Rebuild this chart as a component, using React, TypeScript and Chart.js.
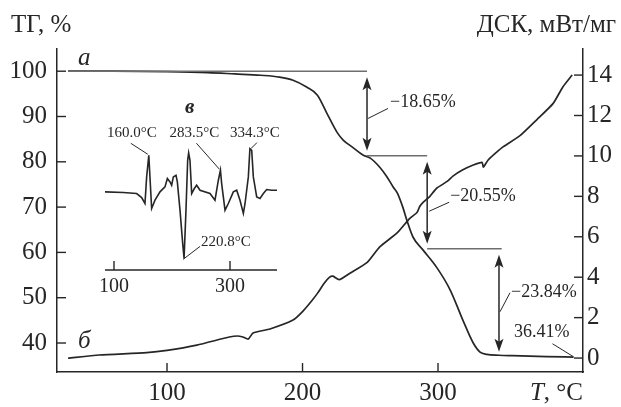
import React, { useEffect, useRef } from "react";
import { Chart, registerables } from "chart.js";

Chart.register(...registerables);

const SERIF = '"Liberation Serif", "Times New Roman", serif';
const INK = "#262626";
const GREY = "#6e6e6e";

// ТГ (mass, %) vs temperature
const TG_T = [27, 60, 100, 130, 150, 169, 183, 193, 203, 211, 218, 225.5, 230, 237, 244.6, 250, 257, 262, 267, 270, 274, 277, 281.5, 289, 299, 309, 318.4, 326, 331, 336, 345, 355, 380, 400];
const TG_V = [100, 100, 99.9, 99.7, 99.4, 99.1, 98.7, 98.0, 96.5, 94.7, 90.7, 86.5, 84.8, 83.2, 81.5, 80.8, 78.8, 76.8, 74.4, 73.1, 70.0, 67.1, 63.4, 60.5, 56.7, 51.7, 45.0, 40.0, 38.0, 37.5, 37.3, 37.2, 37.0, 36.9];

// ДСК (mW/mg) vs temperature
const DSC_T = [27, 50, 85, 100, 122, 146, 152, 156, 160, 163.5, 176, 193, 200, 207, 211, 216, 220, 222.5, 227, 235, 248, 257, 270, 279, 284.5, 286.5, 289, 294, 299, 307, 311, 318, 326, 332.5, 333.5, 337, 343.5, 348, 360.5, 373, 385, 392, 399];
const DSC_V = [0.0, 0.15, 0.27, 0.38, 0.64, 1.04, 1.09, 1.04, 0.94, 1.24, 1.44, 1.88, 2.3, 2.85, 3.2, 3.7, 4.0, 4.05, 3.88, 4.2, 4.75, 5.5, 6.2, 6.9, 7.2, 7.5, 7.7, 8.0, 8.4, 8.75, 9.0, 9.3, 9.55, 9.68, 9.45, 9.8, 10.2, 10.45, 11.0, 11.8, 12.6, 13.4, 14.0];

// Inset (в): derivative curve, arbitrary units
const INSET_T = [84.5, 116, 139, 147.7, 153.4, 156.3, 160.0, 162, 164.9, 170.7, 179.3, 187.9, 192, 196.6, 199.4, 202.3, 206.9, 209.2, 213.8, 218.4, 220.8, 224.1, 227, 228.7, 231, 233.9, 238.5, 242.5, 248.3, 265.5, 274.1, 279.9, 283.5, 285.6, 291.4, 297.1, 305.7, 311.5, 317.2, 323, 325.9, 331.6, 334.3, 337.4, 340.2, 346, 351.7, 357.5, 363.2, 371.8, 381];
const INSET_V = [0, -0.2, -0.5, -1.7, -3.5, 4.5, 11, 4.5, -5, -2.5, 0, 1.5, 4, 3, 2, 4.5, 5, 3, -5.5, -15.5, -20, -5.5, 9.5, 11.7, 9.5, -0.5, 1, 2, 0.5, -0.5, -2.5, 3.5, 6.5, 2.5, -5.5, -3.5, 0, 0.5, -2.5, -6.5, -3.5, 4.5, 13, 12.5, 4.5, -1.5, -2, -0.5, 0.7, 0.5, 0.5];

const X_TICKS = [100, 200, 300];
const LEFT_TICKS = [40, 50, 60, 70, 80, 90, 100];
const RIGHT_TICKS = [0, 2, 4, 6, 8, 10, 12, 14];
const INSET_TICKS = [100, 300];

// mass-loss steps
const STEP_LEVELS = [100, 81.35, 60.8, 36.96];
const STEP_ARROW_T = [247.6, 292, 345];
const STEP_LINE_END_T = [247.6, 292, 347];
const STEP_LABELS = ["−18.65%", "−20.55%", "−23.84%"];
const RESIDUE_LABEL = "36.41%";

const PEAK_T = [160.0, 283.5, 334.3, 220.8];
const PEAK_LABELS = ["160.0°C", "283.5°C", "334.3°C", "220.8°C"];

function head(ctx: CanvasRenderingContext2D, x: number, y: number, dir: number) {
  // dir -1: tip points up at y; +1: tip points down at y
  ctx.beginPath();
  ctx.moveTo(x, y);
  ctx.lineTo(x - 4.5, y - dir * 13);
  ctx.lineTo(x, y - dir * 10);
  ctx.lineTo(x + 4.5, y - dir * 13);
  ctx.closePath();
  ctx.fill();
}

function seg(ctx: CanvasRenderingContext2D, x0: number, y0: number, x1: number, y1: number) {
  ctx.beginPath();
  ctx.moveTo(x0, y0);
  ctx.lineTo(x1, y1);
  ctx.stroke();
}

const mainDecor = {
  id: "mainDecor",
  afterDraw(chart: any) {
    const { ctx, chartArea: ca } = chart;
    const x = chart.scales.x;
    const y = chart.scales.y;
    const y2 = chart.scales.y2;
    ctx.save();

    // inward tick marks
    ctx.strokeStyle = INK;
    ctx.lineWidth = 1.4;
    LEFT_TICKS.forEach((v) => {
      const p = y.getPixelForValue(v);
      seg(ctx, ca.left, p, ca.left + 9, p);
    });
    RIGHT_TICKS.forEach((v) => {
      const p = y2.getPixelForValue(v);
      seg(ctx, ca.right - 9, p, ca.right, p);
    });
    X_TICKS.forEach((v) => {
      const p = x.getPixelForValue(v);
      seg(ctx, p, ca.bottom, p, ca.bottom - 9);
    });

    // step reference lines
    ctx.strokeStyle = GREY;
    ctx.lineWidth = 1.6;
    for (let i = 0; i < 3; i++) {
      const py = y.getPixelForValue(STEP_LEVELS[i]);
      const xs = x.getPixelForValue(i === 0 ? TG_T[0] : STEP_ARROW_T[i - 1]);
      const xe = x.getPixelForValue(STEP_LINE_END_T[i]);
      seg(ctx, xs, py, xe, py);
    }

    // double arrows, leaders, labels
    const leaders = [
      { dx0: 1, dy0: 5, dx1: 21, dy1: -5, tx: 23, ty: -11 },
      { dx0: 2, dy0: 9, dx1: 22, dy1: 0, tx: 23, ty: -6 },
      { dx0: 1, dy0: 9, dx1: 11, dy1: -10, tx: 12, ty: -11 },
    ];
    ctx.strokeStyle = INK;
    ctx.fillStyle = INK;
    ctx.font = `18px ${SERIF}`;
    ctx.textBaseline = "middle";
    ctx.textAlign = "left";
    for (let i = 0; i < 3; i++) {
      const ax = x.getPixelForValue(STEP_ARROW_T[i]);
      const top = y.getPixelForValue(STEP_LEVELS[i]) + 6;
      const bot = y.getPixelForValue(STEP_LEVELS[i + 1]) - 5;
      ctx.lineWidth = 1.5;
      seg(ctx, ax, top + 8, ax, bot - 8);
      head(ctx, ax, top, -1);
      head(ctx, ax, bot, 1);
      const my = y.getPixelForValue((STEP_LEVELS[i] + STEP_LEVELS[i + 1]) / 2);
      const L = leaders[i];
      ctx.lineWidth = 1;
      seg(ctx, ax + L.dx0, my + L.dy0, ax + L.dx1, my + L.dy1);
      ctx.fillText(STEP_LABELS[i], ax + L.tx, my + L.ty);
    }
    // residue label
    const rx = x.getPixelForValue(TG_T[TG_T.length - 1]);
    const ry = y.getPixelForValue(STEP_LEVELS[3]);
    ctx.lineWidth = 1;
    seg(ctx, rx - 21, ry - 13, rx, ry);
    ctx.textAlign = "right";
    ctx.fillText(RESIDUE_LABEL, rx - 4, ry - 25);

    // curve labels
    ctx.textAlign = "left";
    ctx.textBaseline = "alphabetic";
    ctx.font = `italic 25px ${SERIF}`;
    ctx.fillText("а", ca.left + 21, 65);
    ctx.fillText("б", ca.left + 21, 348);

    // axis titles
    ctx.font = `25px ${SERIF}`;
    ctx.textBaseline = "middle";
    ctx.textAlign = "left";
    ctx.fillText("ТГ, %", 11, 25);
    ctx.textAlign = "right";
    ctx.fillText("ДСК, мВт/мг", 616, 25);
    const rest = ", °C";
    const wRest = ctx.measureText(rest).width;
    ctx.fillText(rest, ca.right, 393);
    ctx.font = `italic 25px ${SERIF}`;
    ctx.fillText("T", ca.right - wRest, 393);
    ctx.restore();
  },
};

const insetDecor = {
  id: "insetDecor",
  afterDraw(chart: any) {
    const { ctx, chartArea: ca } = chart;
    const x = chart.scales.x;
    const y = chart.scales.y;
    ctx.save();
    ctx.strokeStyle = INK;
    ctx.fillStyle = INK;
    ctx.lineWidth = 1.4;
    seg(ctx, ca.left, ca.bottom, ca.right, ca.bottom);
    ctx.font = `20px ${SERIF}`;
    ctx.textAlign = "center";
    ctx.textBaseline = "middle";
    INSET_TICKS.forEach((v) => {
      const p = x.getPixelForValue(v);
      seg(ctx, p, ca.bottom, p, ca.bottom - 9);
      ctx.fillText(String(v), p, ca.bottom + 17);
    });

    ctx.font = `italic bold 21px ${SERIF}`;
    ctx.textAlign = "left";
    ctx.textBaseline = "alphabetic";
    ctx.fillText("в", 185, 113);

    const offs = [
      { l0x: -1, l0y: -1, l1x: -18, l1y: -12, tx: -17, ty: -22, align: "center" },
      { l0x: -1, l0y: -1, l1x: -24, l1y: -27, tx: -26, ty: -37, align: "center" },
      { l0x: 1, l0y: 0, l1x: 7, l1y: -6, tx: 5, ty: -16, align: "center" },
      { l0x: -1, l0y: 1, l1x: 16, l1y: -12, tx: 17, ty: -16, align: "left" },
    ];
    ctx.font = `15px ${SERIF}`;
    ctx.textBaseline = "middle";
    ctx.lineWidth = 1;
    PEAK_T.forEach((t, i) => {
      const idx = INSET_T.indexOf(t);
      const px = x.getPixelForValue(t);
      const py = y.getPixelForValue(INSET_V[idx]);
      const o = offs[i];
      seg(ctx, px + o.l0x, py + o.l0y, px + o.l1x, py + o.l1y);
      ctx.textAlign = o.align as CanvasTextAlign;
      ctx.fillText(PEAK_LABELS[i], px + o.tx, py + o.ty);
    });
    ctx.restore();
  },
};

export default function App() {
  const mainRef = useRef<HTMLCanvasElement>(null);
  const insetRef = useRef<HTMLCanvasElement>(null);

  useEffect(() => {
    const tickFont = { family: SERIF, size: 25 };
    const main = new Chart(mainRef.current!, {
      type: "line",
      data: {
        datasets: [
          {
            data: TG_T.map((t, i) => ({ x: t, y: TG_V[i] })),
            yAxisID: "y",
            borderColor: INK,
            borderWidth: 1.7,
            pointRadius: 0,
            cubicInterpolationMode: "monotone",
            fill: false,
          },
          {
            data: DSC_T.map((t, i) => ({ x: t, y: DSC_V[i] })),
            yAxisID: "y2",
            borderColor: INK,
            borderWidth: 1.7,
            pointRadius: 0,
            tension: 0.2,
            fill: false,
          },
        ],
      },
      options: {
        responsive: false,
        animation: false,
        devicePixelRatio: 1,
        events: [],
        layout: { padding: { top: 49, left: 0, right: 0, bottom: 0 } },
        plugins: { legend: { display: false }, tooltip: { enabled: false } },
        scales: {
          x: {
            type: "linear",
            min: 18.8,
            max: 407,
            grid: { display: false, drawTicks: false },
            border: { display: true, color: INK, width: 1.5 },
            ticks: { font: tickFont, color: INK, padding: 6, maxRotation: 0, autoSkip: false },
            afterBuildTicks: (s: any) => {
              s.ticks = X_TICKS.map((v) => ({ value: v }));
            },
            afterFit: (s: any) => {
              s.height = 35;
            },
          },
          y: {
            position: "left",
            min: 33.6,
            max: 104.9,
            grid: { display: false, drawTicks: false },
            border: { display: true, color: INK, width: 1.5 },
            ticks: { font: tickFont, color: INK, padding: 10, autoSkip: false },
            afterBuildTicks: (s: any) => {
              s.ticks = LEFT_TICKS.map((v) => ({ value: v }));
            },
            afterFit: (s: any) => {
              s.width = 57;
            },
          },
          y2: {
            position: "right",
            min: -0.69,
            max: 15.29,
            grid: { display: false, drawTicks: false },
            border: { display: true, color: INK, width: 1.5 },
            ticks: { font: tickFont, color: INK, padding: 4, autoSkip: false },
            afterBuildTicks: (s: any) => {
              s.ticks = RIGHT_TICKS.map((v) => ({ value: v }));
            },
            afterFit: (s: any) => {
              s.width = 38;
            },
          },
        },
      },
      plugins: [mainDecor],
    } as any);

    const inset = new Chart(insetRef.current!, {
      type: "line",
      data: {
        datasets: [
          {
            data: INSET_T.map((t, i) => ({ x: t, y: INSET_V[i] })),
            borderColor: INK,
            borderWidth: 1.6,
            pointRadius: 0,
            tension: 0,
            fill: false,
          },
        ],
      },
      options: {
        responsive: false,
        animation: false,
        devicePixelRatio: 1,
        events: [],
        layout: { padding: { left: 105, right: 344, top: 140, bottom: 137 } },
        plugins: { legend: { display: false }, tooltip: { enabled: false } },
        scales: {
          x: { type: "linear", display: false, min: 84.5, max: 381 },
          y: { display: false, min: -23.5, max: 15.6 },
        },
      },
      plugins: [insetDecor],
    } as any);

    return () => {
      main.destroy();
      inset.destroy();
    };
  }, []);

  return (
    <div style={{ position: "fixed", left: 0, top: 0, width: 621, height: 407, background: "#fff" }}>
      <canvas ref={mainRef} width={621} height={407} style={{ position: "absolute", left: 0, top: 0 }} />
      <canvas
        ref={insetRef}
        width={621}
        height={407}
        style={{ position: "absolute", left: 0, top: 0, pointerEvents: "none" }}
      />
    </div>
  );
}
